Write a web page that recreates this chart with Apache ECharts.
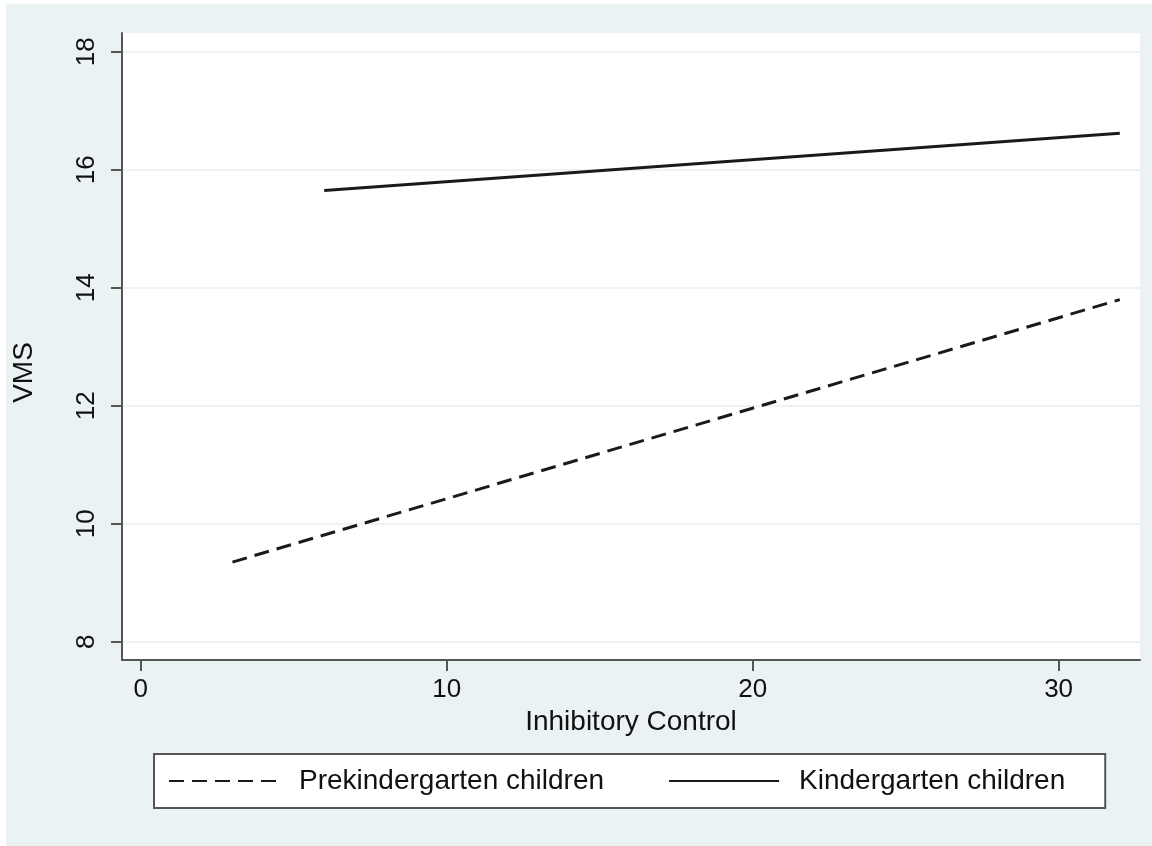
<!DOCTYPE html>
<html>
<head>
<meta charset="utf-8">
<script src="https://cdn.jsdelivr.net/npm/echarts@6/dist/echarts.min.js"></script>
<style>
  html, body { margin: 0; padding: 0; background: #fff; }
  #chart { width: 1152px; height: 846px; }
</style>
</head>
<body>
<div id="chart"></div>
<script>
// fitted lines (endpoints only, they are straight)
const preX = [3, 32];
const preY = [9.35, 13.80];
const kinX = [6, 32];
const kinY = [15.65, 16.62];

const xTicks = [0, 10, 20, 30];
const yTicks = [8, 10, 12, 14, 16, 18];

const font = '"Liberation Sans", Arial, Helvetica, sans-serif';
const ink = '#111';
const axisGray = '#555';

function pairs(xs, ys) {
    return xs.map((x, i) => [x, ys[i]]);
}

const chartDom = document.getElementById('chart');
const chart = echarts.init(chartDom);

chart.setOption({
    animation: false,
    backgroundColor: '#fff',
    graphic: [{
        type: 'rect',
        z: -10,
        silent: true,
        shape: { x: 6, y: 4, width: 1146, height: 842 },
        style: { fill: '#eaf2f3' }
    }],
    grid: {
        left: 122, right: 12, top: 33, bottom: 186,
        show: true, backgroundColor: '#fff', borderWidth: 0
    },
    legend: {
        left: 154, top: 754,
        orient: 'horizontal',
        backgroundColor: '#fff',
        borderColor: axisGray,
        borderWidth: 2,
        borderRadius: 0,
        padding: [13, 40, 13, 14],
        itemWidth: 110,
        itemHeight: 28,
        itemGap: 64,
        itemStyle: { opacity: 0 },
        textStyle: { fontFamily: font, fontSize: 28, color: ink, padding: [0, 0, 0, 15] },
        data: ['Prekindergarten children', 'Kindergarten children']
    },
    xAxis: {
        type: 'value',
        min: -0.61,
        max: 32.66,
        name: 'Inhibitory Control',
        nameLocation: 'middle',
        nameGap: 46,
        nameTextStyle: { fontFamily: font, fontSize: 28, color: ink },
        axisLine: { show: true, onZero: false, lineStyle: { color: axisGray, width: 2 } },
        axisTick: { show: true, length: 11, customValues: xTicks, lineStyle: { color: axisGray, width: 2 } },
        axisLabel: { customValues: xTicks, margin: 17, fontFamily: font, fontSize: 26, color: ink },
        splitLine: { show: false }
    },
    yAxis: {
        type: 'value',
        min: 7.69,
        max: 18.32,
        name: 'VMS',
        nameLocation: 'middle',
        nameGap: 84,
        nameRotate: 90,
        nameTextStyle: { fontFamily: font, fontSize: 28, color: ink, padding: [0, 52, 0, 0] },
        axisLine: { show: true, onZero: false, lineStyle: { color: axisGray, width: 2 } },
        axisTick: { show: true, length: 11, customValues: yTicks, lineStyle: { color: axisGray, width: 2 } },
        axisLabel: { customValues: yTicks, rotate: 90, margin: 22, fontFamily: font, fontSize: 26, color: ink },
        splitLine: { show: true, lineStyle: { color: '#edf3f4', width: 2 } }
    },
    series: [
        {
            name: 'Prekindergarten children',
            type: 'line',
            symbol: 'none',
            data: pairs(preX, preY),
            lineStyle: { color: '#1a1a1a', width: 3, type: [15, 8] },
            itemStyle: { color: '#1a1a1a' }
        },
        {
            name: 'Kindergarten children',
            type: 'line',
            symbol: 'none',
            data: pairs(kinX, kinY),
            lineStyle: { color: '#1a1a1a', width: 3, type: 'solid' },
            itemStyle: { color: '#1a1a1a' }
        }
    ]
});
</script>
</body>
</html>
